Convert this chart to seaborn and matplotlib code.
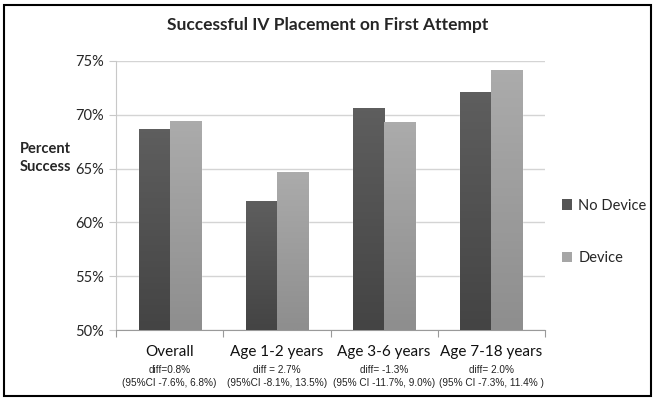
"""
plot.py
-------
Successful IV placement on first attempt, device vs. no device, by age group.
"""

import numpy as np
import pandas as pd
import matplotlib
matplotlib.use("Agg")
import matplotlib.pyplot as plt
from matplotlib.colors import LinearSegmentedColormap
from matplotlib.patches import Rectangle, Patch
from matplotlib.ticker import FuncFormatter
import seaborn as sns

# ── Data ─────────────────────────────────────────────────────
categories = ["Overall", "Age 1-2 years", "Age 3-6 years", "Age 7-18 years"]
no_device  = [68.6, 61.9, 70.6, 72.1]
device     = [69.4, 64.6, 69.3, 74.1]
diff_text  = ["diff=0.8%", "diff = 2.7%", "diff= -1.3%", "diff= 2.0%"]
ci_text    = ["(95%CI -7.6%, 6.8%)", "(95%CI -8.1%, 13.5%)",
              "(95% CI -11.7%, 9.0%)", "(95% CI -7.3%, 11.4% )"]
groups     = ["No Device", "Device"]
y_ticks    = [50, 55, 60, 65, 70, 75]

df = pd.DataFrame({
    "category": categories * 2,
    "group":    [groups[0]] * len(categories) + [groups[1]] * len(categories),
    "value":    no_device + device,
})

sns.set_style("white")
plt.rcParams["font.family"] = ["Lato", "DejaVu Sans"]

colors    = {"No Device": "#555555", "Device": "#a6a6a6"}
gradients = {"No Device": ("#444444", "#5e5e5e"),
             "Device":    ("#8e8e8e", "#ababab")}
y_min, y_max = y_ticks[0], y_ticks[-1]

fig = plt.figure(figsize=(6.56, 4.01), dpi=100)
ax  = fig.add_axes([116/656, 1 - 330/401, (545 - 116)/656, (330 - 61)/401])

sns.barplot(data=df, x="category", y="value", hue="group", order=categories,
            hue_order=groups, palette=colors, width=0.58, ax=ax,
            legend=False, saturation=1, zorder=3)

# vertical gradient fill on the visible part of each bar
for container, name in zip(ax.containers, groups):
    cmap = LinearSegmentedColormap.from_list(name, gradients[name])
    for bar in container:
        x0 = bar.get_x()
        x1 = x0 + bar.get_width()
        top = bar.get_y() + bar.get_height()
        grad = np.linspace(0, 1, 64).reshape(-1, 1)
        ax.imshow(grad, cmap=cmap, origin="lower", aspect="auto",
                  extent=[x0, x1, y_min, top], zorder=4)

ax.set_xlim(-0.5, len(categories) - 0.5)
ax.set_ylim(y_min, y_max)
ax.set_yticks(y_ticks)
ax.yaxis.set_major_formatter(FuncFormatter(lambda v, _: f"{v:.0f}%"))
ax.tick_params(axis="y", labelsize=10.5, length=5, width=0.8, direction="out",
               left=True, pad=4, color="#c8c8c8", labelcolor="#262626")
ax.yaxis.grid(True, color="#d4d4d4", lw=1, zorder=0)
ax.set_axisbelow(True)

# category ticks on the boundaries, labels centred under the groups
ax.set_xticks(np.arange(-0.5, len(categories), 1.0))
ax.set_xticklabels([])
ax.tick_params(axis="x", length=5, width=0.8, color="#9a9a9a", bottom=True)
xt = ax.get_xaxis_transform()
for i, cat in enumerate(categories):
    ax.text(i, -0.08, cat, transform=xt, ha="center", va="center",
            fontsize=11, color="#111111")
    ax.text(i, -0.148, diff_text[i], transform=xt, ha="center", va="center",
            fontsize=7.2, color="#222222", family="Liberation Sans")
    ax.text(i, -0.197, ci_text[i], transform=xt, ha="center", va="center",
            fontsize=7.2, color="#222222", family="Liberation Sans")

for side in ["top", "right"]:
    ax.spines[side].set_visible(False)
ax.spines["left"].set_color("#c8c8c8")
ax.spines["bottom"].set_color("#9a9a9a")
ax.set_xlabel("")
ax.set_ylabel("")

fig.text(20/656, 1 - 158/401, "Percent\nSuccess", ha="left", va="center",
         fontsize=10.5, fontweight="bold", linespacing=1.3)

fig.suptitle("Successful IV Placement on First Attempt", x=0.5, y=1 - 25/401,
             va="center", fontsize=12.5, fontweight="bold")

handles = [Patch(facecolor=colors[g], edgecolor="none") for g in groups]
fig.legend(handles, groups, loc="center left", bbox_to_anchor=(549/656, 1 - 232/401),
           frameon=False, fontsize=10.5, handlelength=0.7, handleheight=0.7,
           handletextpad=0.4, labelspacing=2.65)

fig.patches.append(Rectangle((4/656, 5/401), 647/656, 391/401, transform=fig.transFigure,
                             fill=False, edgecolor="black", lw=1.5))

plt.savefig("out.png", dpi=100)
plt.close()
